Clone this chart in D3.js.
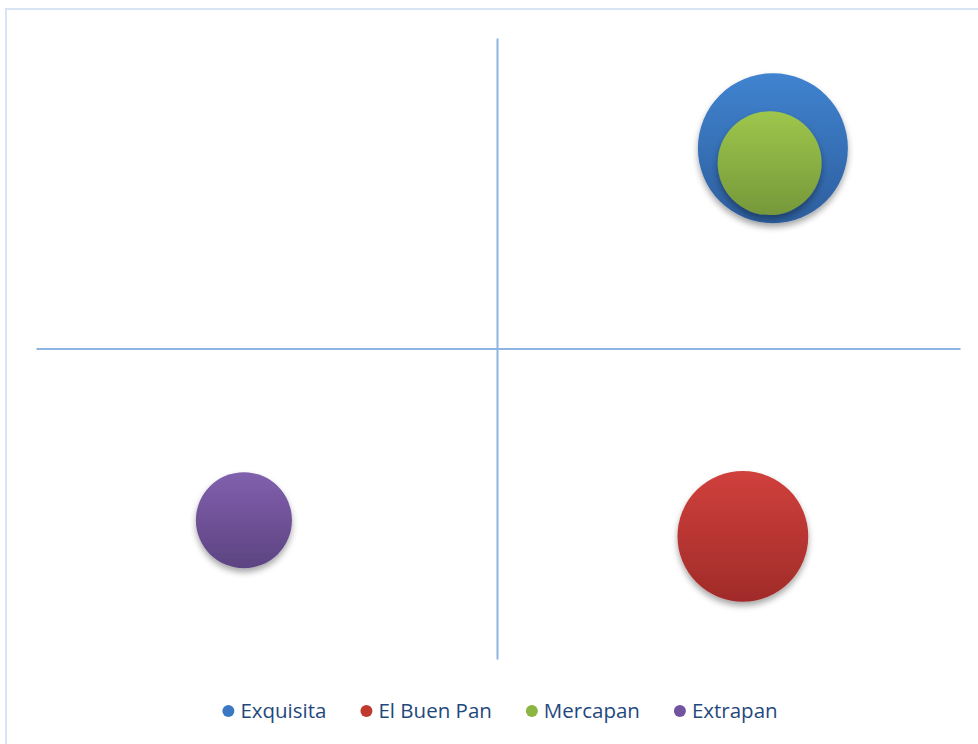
<!DOCTYPE html>
<html>
<head>
<meta charset="utf-8">
<script src="https://cdn.jsdelivr.net/npm/d3@7"></script>
<style>
  html, body { margin: 0; padding: 0; background: #ffffff; }
  svg { display: block; }
</style>
</head>
<body>
<svg id="chart" width="978" height="744"></svg>
<script>
// Brand positioning: x / y position and bubble size per brand
const brands = ["Exquisita", "El Buen Pan", "Mercapan", "Extrapan"];
const xValues = [5.95, 5.3, 5.88, -5.5];
const yValues = [6.45, -6.05, 5.97, -5.53];
const sizeValues = [10, 7.6, 4.8, 4.1];
const colorsTop = ["#4083d0", "#d0403c", "#9ec64c", "#8160ad"];
const colorsBottom = ["#2d5e9d", "#a02b29", "#76983a", "#5c4381"];
const legendColors = ["#3b78c4", "#c0392f", "#8db543", "#7253a0"];

const W = 978, H = 744;
const svg = d3.select("#chart");

// outer chart frame
svg.append("rect")
  .attr("x", 6).attr("y", 9)
  .attr("width", W + 10).attr("height", H + 10)
  .attr("fill", "none")
  .attr("stroke", "#d7e4f4")
  .attr("stroke-width", 2);

const plot = { left: 36, right: 960, top: 38, bottom: 659 };
const x = d3.scaleLinear().domain([-10, 10]).range([plot.left, plot.right]);
const y = d3.scaleLinear().domain([-10, 10]).range([plot.bottom, plot.top]);
const r = d3.scaleSqrt().domain([0, 10]).range([0, 75]);

const defs = svg.append("defs");
const shadow = defs.append("filter").attr("id", "shadow")
  .attr("x", "-30%").attr("y", "-30%").attr("width", "160%").attr("height", "170%");
shadow.append("feDropShadow")
  .attr("dx", 0).attr("dy", 4).attr("stdDeviation", 3)
  .attr("flood-color", "#000").attr("flood-opacity", 0.35);

brands.forEach((b, i) => {
  const g = defs.append("linearGradient").attr("id", "grad" + i)
    .attr("x1", 0).attr("y1", 0).attr("x2", 0).attr("y2", 1);
  g.append("stop").attr("offset", "0%").attr("stop-color", colorsTop[i]);
  g.append("stop").attr("offset", "100%").attr("stop-color", colorsBottom[i]);
});

// axes crossing at the origin, drawn without ticks or labels
const xAxis = d3.axisBottom(x).tickValues([]).tickSizeOuter(0);
const yAxis = d3.axisLeft(y).tickValues([]).tickSizeOuter(0);
svg.append("g").attr("transform", `translate(0,${y(0)})`).call(xAxis)
  .select(".domain").attr("stroke", "#8eb4e3").attr("stroke-width", 2);
svg.append("g").attr("transform", `translate(${x(0) - 1},0)`).call(yAxis)
  .select(".domain").attr("stroke", "#8eb4e3").attr("stroke-width", 2);

const data = brands.map((b, i) => ({ name: b, x: xValues[i], y: yValues[i], s: sizeValues[i], i }));

svg.append("g").selectAll("circle")
  .data(data)
  .join("circle")
  .attr("cx", d => x(d.x))
  .attr("cy", d => y(d.y))
  .attr("r", d => r(d.s))
  .attr("fill", d => `url(#grad${d.i})`)
  .attr("filter", "url(#shadow)");

// legend
const legend = svg.append("g").attr("transform", "translate(0,711)");
const items = legend.selectAll("g").data(data).join("g");
items.append("circle").attr("r", 6).attr("cx", 0).attr("cy", 0)
  .attr("fill", d => legendColors[d.i]);
items.append("text")
  .attr("x", 12).attr("y", 0).attr("dy", "0.35em")
  .attr("font-family", "'Open Sans', sans-serif")
  .attr("font-size", 20.5)
  .attr("fill", "#1f497d")
  .text(d => d.name);

const gap = 34;
let widths = [];
items.each(function () { widths.push(this.getBBox().width); });
const total = d3.sum(widths) + gap * (widths.length - 1);
let cursor = 500 - total / 2;
items.attr("transform", (d, i) => {
  const tx = cursor + 6;
  cursor += widths[i] + gap;
  return `translate(${tx},0)`;
});
</script>
</body>
</html>
